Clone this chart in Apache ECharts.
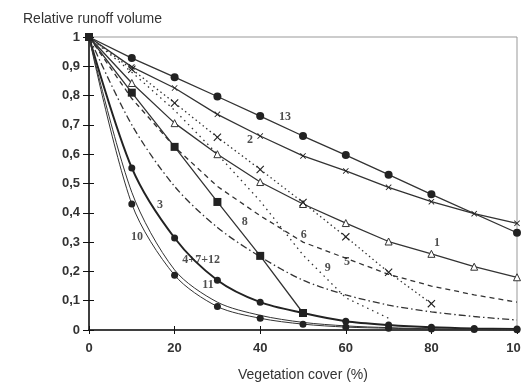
<!DOCTYPE html>
<html><head><meta charset="utf-8">
<script src="https://cdn.jsdelivr.net/npm/echarts@6/dist/echarts.min.js"></script>
<style>html,body{margin:0;padding:0;background:#fff}#c{width:521px;height:385px}</style>
</head><body><div id="c"></div>
<script>
// Vegetation cover (%) sample points
const xFull = [0,10,20,30,40,50,60,70,80,90,100];
const x13 = [0,10,20,30,40,50,60,70,80,100];
const x5 = [0,10,20,30,40,50,60,70,80];
const x8 = [0,10,20,30,40,50];
const x9 = [0,10,20,30,40,50,60,70];
// Relative runoff volume per curve
const y13 = [1,0.928,0.863,0.797,0.73,0.662,0.597,0.53,0.463,0.332];
const y2 = [1,0.898,0.826,0.736,0.662,0.594,0.543,0.487,0.438,0.397,0.364];
const y1 = [1,0.843,0.706,0.60,0.505,0.43,0.365,0.302,0.26,0.216,0.18];
const y5 = [1,0.89,0.775,0.658,0.548,0.435,0.318,0.197,0.09];
const y6 = [1,0.79,0.625,0.49,0.39,0.30,0.245,0.19,0.15,0.12,0.095];
const y9 = [1,0.88,0.75,0.6,0.44,0.256,0.11,0.04];
const y3 = [1,0.70,0.49,0.35,0.25,0.17,0.12,0.085,0.062,0.046,0.034];
const y8 = [1,0.81,0.625,0.437,0.253,0.058];
const y4712 = [1,0.553,0.314,0.17,0.095,0.058,0.03,0.017,0.009,0.005,0.003];
const y11 = [1,0.47,0.205,0.095,0.05,0.026,0.014,0.008,0.004,0.002,0.001];
const y10 = [1,0.43,0.187,0.08,0.04,0.02,0.01,0.006,0.003,0.002,0.001];
// Tick values
const xTicks = [0,20,40,60,80,100];
const yTicks = [0,0.1,0.2,0.3,0.4,0.5,0.6,0.7,0.8,0.9,1];
// Curve labels
const curveNames = ['13','2','1','5','6','9','3','8','4+7+12','11','10'];

function pairs(xs, ys){ return xs.map((x,i)=>[x,ys[i]]); }
const INK = '#333';
const crossPath = 'path://M0,1L1,0L5,4L9,0L10,1L6,5L10,9L9,10L5,6L1,10L0,9L4,5Z';

function mk(name, xs, ys, opts){
  return Object.assign({
    name: name, type:'line', data: pairs(xs, ys), smooth: false,
    symbol: 'none', symbolSize: 6, z: 3,
    lineStyle: {color: INK, width: 1.3, type: 'solid'},
    itemStyle: {color: '#222'},
    emphasis: {disabled: true}, animation: false
  }, opts || {});
}

const series = [
  mk(curveNames[0], x13, y13, {symbol:'circle', symbolSize:8}),
  mk(curveNames[1], xFull, y2, {symbol:crossPath, symbolSize:6}),
  mk(curveNames[2], xFull, y1, {symbol:'triangle', symbolSize:7,
     itemStyle:{color:'#fff', borderColor:INK, borderWidth:1}}),
  mk(curveNames[3], x5, y5, {symbol:crossPath, symbolSize:8,
     lineStyle:{color:INK, width:1.3, type:[1.5,3]}}),
  mk(curveNames[4], xFull, y6, {lineStyle:{color:INK, width:1.3, type:[5,4]}}),
  mk(curveNames[5], x9, y9, {lineStyle:{color:INK, width:1.3, type:[1.5,4]}}),
  mk(curveNames[6], xFull, y3, {smooth:0.3, lineStyle:{color:INK, width:1.3, type:[7,3,1.5,3]}}),
  mk(curveNames[7], x8, y8, {symbol:'rect', symbolSize:8}),
  mk(curveNames[8], xFull, y4712, {smooth:0.3, symbol:'circle', symbolSize:7, lineStyle:{color:'#222', width:2}}),
  mk(curveNames[9], xFull, y11, {smooth:0.3, lineStyle:{color:INK, width:1}}),
  mk(curveNames[10], xFull, y10, {smooth:0.3, symbol:'circle', symbolSize:7, lineStyle:{color:INK, width:1}})
];
// annotation labels placed in data space
const labelData = [
  [45.8,0.727,'13'], [37.6,0.648,'2'], [81.3,0.297,'1'], [16.6,0.427,'3'],
  [60.3,0.232,'5'], [50.2,0.324,'6'], [55.8,0.212,'9'], [36.4,0.369,'8'],
  [26.2,0.239,'4+7+12'], [27.8,0.154,'11'], [11.2,0.317,'10']
];
series.push({type:'scatter', data:labelData, silent:true, animation:false, z:5,
  symbol:'circle', symbolSize:1, itemStyle:{color:'rgba(0,0,0,0)'},
  label:{show:true, position:'inside', formatter:p=>p.value[2], color:'#222',
    fontFamily:'Liberation Serif', fontWeight:'bold', fontSize:12}});

const chart = echarts.init(document.getElementById('c'), null, {renderer:'canvas'});
const axisLbl = {color:'#333', fontFamily:'Liberation Sans', fontSize:13, fontWeight:'bold'};
chart.setOption({
  animation:false,
  backgroundColor:'#fff',
  title:{text:'Relative runoff volume', left:18, top:7,
    textStyle:{color:'#333', fontFamily:'Liberation Sans', fontSize:14, fontWeight:'normal'}},
  grid:{left:89, right:4, top:37, bottom:55, show:true, borderColor:'#999', borderWidth:1,
    outerBoundsMode:'none', containLabel:false},
  xAxis:[{type:'value', min:0, max:100, interval:20, position:'bottom',
    name:'Vegetation cover (%)', nameLocation:'middle', nameGap:38,
    nameTextStyle:{color:'#333', fontFamily:'Liberation Sans', fontSize:14},
    axisLine:{lineStyle:{color:'#111', width:1.5}},
    axisTick:{length:4, lineStyle:{color:'#111'}},
    axisLabel:Object.assign({margin:12, formatter:v=>xTicks.includes(v)?String(v):''}, axisLbl),
    splitLine:{show:false}},
   {type:'value', min:0, max:100, interval:20, position:'bottom',
    axisLine:{show:false}, axisTick:{inside:true, length:4, lineStyle:{color:'#111'}},
    axisLabel:{show:false}, splitLine:{show:false}}],
  yAxis:[{type:'value', min:0, max:1, interval:0.1,
    axisLine:{show:true, lineStyle:{color:'#111', width:1.5}},
    axisTick:{show:true, length:6, lineStyle:{color:'#111'}},
    axisLabel:Object.assign({margin:9, formatter:v=>{
      const t = yTicks.find(k=>Math.abs(k-v)<1e-6);
      if(t===undefined) return '';
      return (t===0?'0':t===1?'1':t.toFixed(1).replace('.',','));}}, axisLbl),
    splitLine:{show:false}},
   {type:'value', min:0, max:1, interval:0.1, position:'left',
    axisLine:{show:false}, axisTick:{show:true, inside:true, length:5, lineStyle:{color:'#111'}},
    axisLabel:{show:false}, splitLine:{show:false}}],
  series: series
});
</script></body></html>
